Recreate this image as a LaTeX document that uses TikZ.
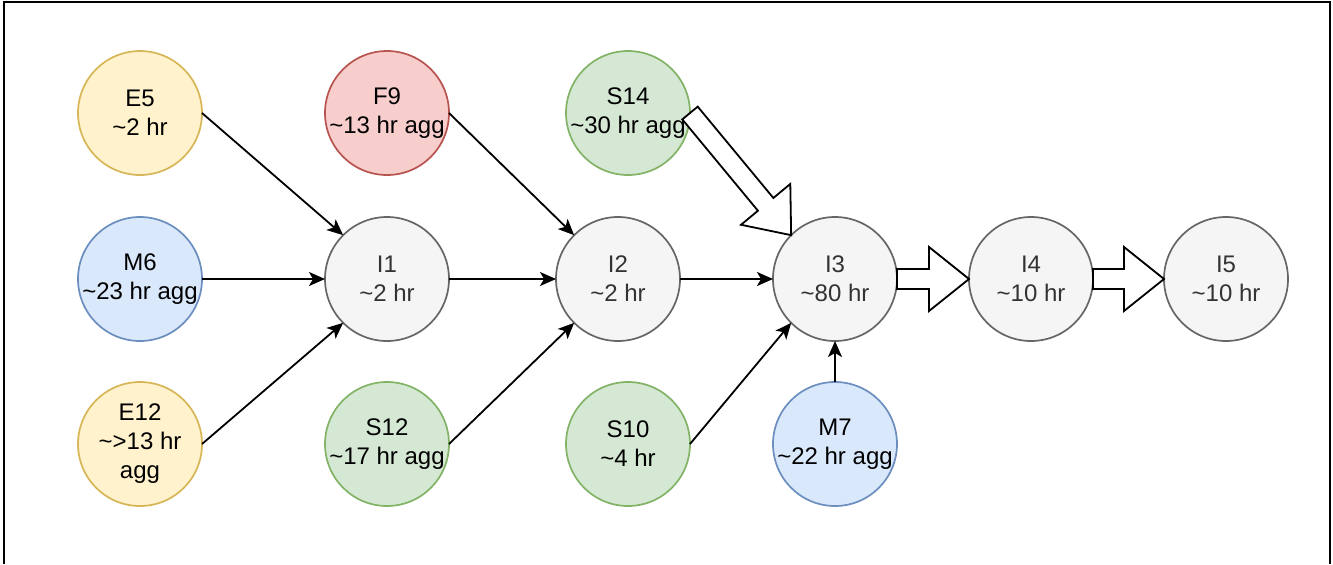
\documentclass[tikz,border=0pt]{standalone}
\usepackage{fontspec}
\setmainfont{Liberation Sans}
\usetikzlibrary{arrows.meta,calc}

\definecolor{ylwfill}{HTML}{FFF2CC}\definecolor{ylwline}{HTML}{D6B656}
\definecolor{bluefill}{HTML}{DAE8FC}\definecolor{blueline}{HTML}{6C8EBF}
\definecolor{redfill}{HTML}{F8CECC}\definecolor{redline}{HTML}{B85450}
\definecolor{grnfill}{HTML}{D5E8D4}\definecolor{grnline}{HTML}{82B366}
\definecolor{stepfill}{HTML}{F5F5F5}\definecolor{stepline}{HTML}{666666}
\definecolor{steptext}{HTML}{333333}

\newcommand{\tildechar}{\textasciitilde}
% hollow block arrow from #1 to #2
\newcommand{\fatarrow}[2]{%
    \coordinate (fathead) at ($(#2)!20pt!(#1)$);
    \draw[fat] ($(#1)!5pt!90:(#2)$) -- ($(fathead)!5pt!90:(#2)$)
        -- ($(fathead)!16pt!90:(#2)$) -- (#2)
        -- ($(fathead)!16pt!-90:(#2)$) -- ($(fathead)!5pt!-90:(#2)$)
        -- ($(#1)!5pt!-90:(#2)$) -- cycle;}

\begin{document}
\begin{tikzpicture}[x=0.5pt, y=-0.5pt,
    every node/.style={circle, draw, line width=0.85pt, minimum size=62pt, inner sep=-8pt,
        outer sep=0pt, align=center, font=\fontsize{12}{14.5}\selectfont},
    ylw/.style={fill=ylwfill, draw=ylwline},
    blu/.style={fill=bluefill, draw=blueline},
    rd/.style={fill=redfill, draw=redline},
    grn/.style={fill=grnfill, draw=grnline},
    stage/.style={fill=stepfill, draw=stepline, text=steptext},
    link/.style={-{Stealth[length=8pt, width=7pt, inset=2pt]}, line width=0.9pt},
    fat/.style={draw=black, fill=white, line width=0.9pt, line join=miter}]
    \useasboundingbox (0,0) rectangle (1333,564);
    \draw[line width=1pt] (4,564) -- (4,2) -- (1330,2) -- (1330,564);

    \node[ylw] (e5) at (140,113) {E5\\\tildechar2 hr};
    \node[blu] (m6) at (140,279) {M6\\\tildechar23 hr agg};
    \node[ylw] (e12) at (140,444) {E12\\\tildechar>13 hr\\agg};
    \node[rd] (f9) at (387,113) {F9\\\tildechar13 hr agg};
    \node[stage] (i1) at (387,279) {I1\\\tildechar2 hr};
    \node[grn] (s12) at (387,444) {S12\\\tildechar17 hr agg};
    \node[stage] (i2) at (618,279) {I2\\\tildechar2 hr};
    \node[grn] (s14) at (628,113) {S14\\\tildechar30 hr agg};
    \node[grn] (s10) at (628,444) {S10\\\tildechar4 hr};
    \node[stage] (i3) at (835,279) {I3\\\tildechar80 hr};
    \node[blu] (m7) at (835,444) {M7\\\tildechar22 hr agg};
    \node[stage] (i4) at (1031,279) {I4\\\tildechar10 hr};
    \node[stage] (i5) at (1226,279) {I5\\\tildechar10 hr};

    \draw[link] (e5.east) -- (i1.north west);
    \draw[link] (m6) -- (i1);
    \draw[link] (e12.east) -- (i1.south west);
    \draw[link] (f9.east) -- (i2.north west);
    \draw[link] (i1) -- (i2);
    \draw[link] (s12.east) -- (i2.south west);
    \draw[link] (i2) -- (i3);
    \draw[link] (s10.east) -- (i3.south west);
    \draw[link] (m7) -- (i3);

    \fatarrow{s14.east}{i3.north west}
    \fatarrow{i3.east}{i4.west}
    \fatarrow{i4.east}{i5.west}
\end{tikzpicture}
\end{document}
